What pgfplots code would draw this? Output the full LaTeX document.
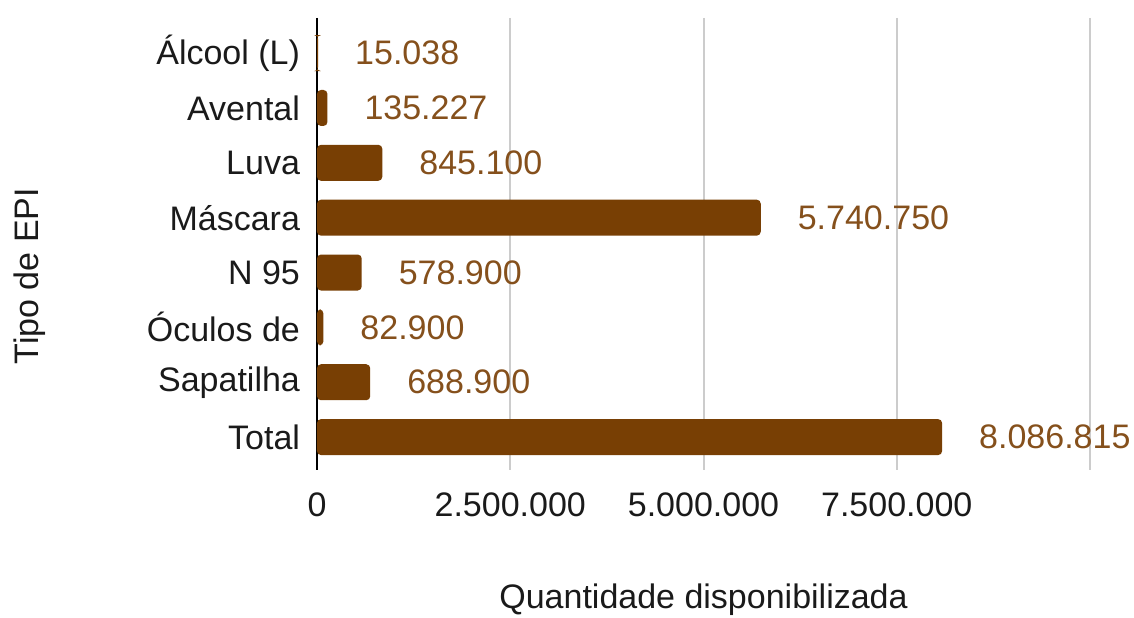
\documentclass[border=0pt]{standalone}
\usepackage{fontspec}
\setmainfont{Liberation Sans}
\usepackage{pgfplots}
\pgfplotsset{compat=1.18}
\definecolor{barc}{HTML}{783F04}
\definecolor{labc}{HTML}{85501C}
\definecolor{gridc}{HTML}{CCCCCC}
\definecolor{txt}{HTML}{1A1A1A}
\begin{document}
\begin{tikzpicture}
\begin{axis}[
  scale only axis,
  width=386.5pt, height=226pt,
  xbar, bar width=18pt,
  xmin=0, xmax=10000000,
  ymin=-0.64, ymax=7.6,
  y dir=reverse,
  ytick={0,1,2,3,4,5,6,7},
  yticklabels={Álcool (L),Avental,Luva,Máscara,N 95,Óculos de,Sapatilha,Total},
  xtick={0,2500000,5000000,7500000,10000000},
  xticklabels={0,2.500.000,5.000.000,7.500.000,},
  scaled x ticks=false,
  major tick length=0pt,
  xmajorgrids, grid style={gridc, line width=1pt},
  axis y line*=left, axis x line*=bottom,
  x axis line style={draw=none},
  y axis line style={black, line width=1pt, -},
  tick label style={font=\fontsize{17}{20}\selectfont, text=txt},
  yticklabel style={xshift=-5pt},
  xticklabel style={yshift=-8pt},
  /pgf/number format/assume math mode=true,
  xlabel={Quantidade disponibilizada},
  ylabel={Tipo de EPI},
  label style={font=\fontsize{17}{20}\selectfont, text=txt},
  xlabel style={at={(rel axis cs:0.5,0)}, anchor=center, yshift=-65pt},
  ylabel style={at={(rel axis cs:-0.371,0.429)}, anchor=center},
  nodes near coords,
  every node near coord/.append style={font=\fontsize{17}{20}\selectfont, text=labc, anchor=west, xshift=15pt,
    /pgf/number format/.cd, fixed, precision=0, 1000 sep={.}, assume math mode=true},
  clip=false,
]
\addplot[fill=barc, draw=none, rounded corners=2pt] coordinates {
  (15038,0) (135227,1) (845100,2) (5740750,3) (578900,4) (82900,5) (688900,6) (8086815,7)
};
\coordinate (o) at (rel axis cs:0,0);
\end{axis}
\pgfresetboundingbox
\path[use as bounding box] (o) ++(-158.5pt,-73.5pt) rectangle ++(567pt,308.5pt);
\end{tikzpicture}
\end{document}
